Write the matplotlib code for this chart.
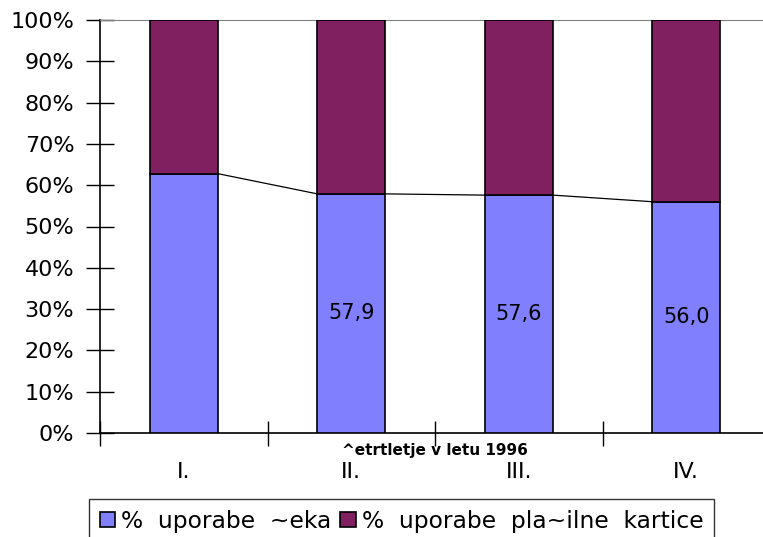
import matplotlib
matplotlib.use("Agg")
import matplotlib.pyplot as plt
from matplotlib.ticker import FixedLocator, PercentFormatter
import numpy as np

# Quarterly share of payments: cheques vs. payment cards (1996)
quarters = ["I.", "II.", "III.", "IV."]
cheque_pct = [62.8, 57.9, 57.6, 56.0]
card_pct = [100 - v for v in cheque_pct]
value_labels = ["", "57,9", "57,6", "56,0"]
series_names = ["%  uporabe  ~eka", "%  uporabe  pla~ilne  kartice"]
x_title = "^etrtletje v letu 1996"

blue = "#8080FF"
purple = "#802060"

plt.rcParams["font.family"] = ["DejaVu Sans"]

fig = plt.figure(figsize=(7.63, 5.37), dpi=100)
W, H = 763, 537
ax = fig.add_axes([100 / W, 1 - 433 / H, 670 / W, 413 / H])

x = np.arange(len(quarters))
bw = 0.405
b1 = ax.bar(x, cheque_pct, bw, color=blue, edgecolor="black", linewidth=1.2,
            label=series_names[0], zorder=3)
b2 = ax.bar(x, card_pct, bw, bottom=cheque_pct, color=purple, edgecolor="black",
            linewidth=1.2, label=series_names[1], zorder=3)

# series lines joining the tops of the lower segments
for i in range(len(x) - 1):
    ax.plot([x[i] + bw / 2, x[i + 1] - bw / 2], [cheque_pct[i], cheque_pct[i + 1]],
            color="black", linewidth=0.9, zorder=2)

for xi, v, lab in zip(x, cheque_pct, value_labels):
    if lab:
        ax.text(xi, v / 2, lab, ha="center", va="center", fontsize=15, zorder=4)

ax.set_xlim(-0.5, 3.5)
ax.set_ylim(0, 100)
ax.yaxis.set_major_locator(FixedLocator(np.arange(0, 101, 10)))
ax.yaxis.set_major_formatter(PercentFormatter(decimals=0))
ax.tick_params(axis="y", direction="inout", length=20, width=1, labelsize=16, pad=8.5)

ax.set_xticks(x)
ax.set_xticklabels(quarters)
ax.tick_params(axis="x", which="major", length=0, labelsize=16, pad=21)
ax.xaxis.set_minor_locator(FixedLocator(np.arange(-0.5, 3.6, 1.0)))
ax.tick_params(axis="x", which="minor", direction="inout", length=18, width=1)

ax.spines["right"].set_visible(False)
ax.spines["top"].set_color("#808080")
ax.spines["left"].set_linewidth(1.2)
ax.spines["bottom"].set_linewidth(1.2)

fig.text(435 / W, 1 - 451 / H, x_title, ha="center", va="center",
         fontsize=11, fontweight="bold")

fig.legend(handles=[b1, b2], labels=series_names, loc="upper left",
           bbox_to_anchor=(89 / W, 1 - 499 / H), ncol=2, frameon=True,
           fancybox=False, edgecolor="black", fontsize=16.85,
           handlelength=0.65, handleheight=0.65, handletextpad=0.28,
           columnspacing=0.38, borderpad=0.45, borderaxespad=0)

fig.savefig("out.png", dpi=100)
